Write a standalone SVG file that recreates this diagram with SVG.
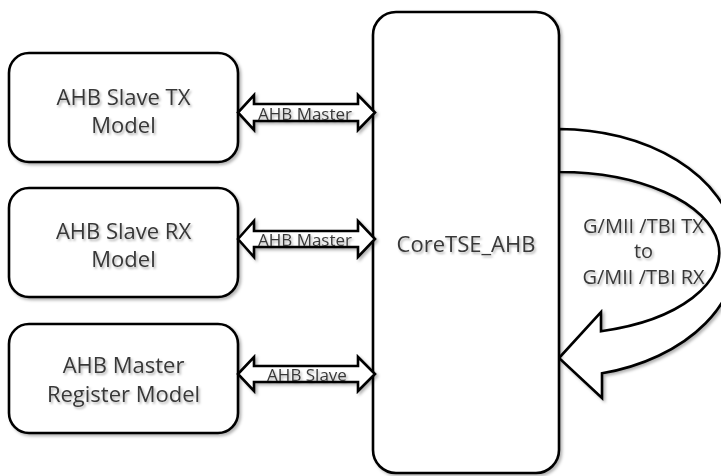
<svg xmlns="http://www.w3.org/2000/svg" width="721" height="476" viewBox="0 0 721 476">
  <defs>
    <filter id="sh" x="-10%" y="-10%" width="120%" height="120%">
      <feDropShadow dx="2" dy="2" stdDeviation="1.5" flood-color="#000" flood-opacity="0.3"/>
    </filter>
    <filter id="tsh" x="-10%" y="-20%" width="120%" height="150%">
      <feDropShadow dx="1.5" dy="2" stdDeviation="1.2" flood-color="#000" flood-opacity="0.3"/>
    </filter>
  </defs>
  <style>
    .box { fill: #fff; stroke: #000; stroke-width: 2.6; }
    .arr { fill: #fff; stroke: #000; stroke-width: 2.6; stroke-linejoin: miter; }
    .t { font-family: "Open Sans", "Liberation Sans", sans-serif; fill: #383838; text-anchor: middle; }
    .big { font-size: 22px; }
    .mid { font-size: 20px; }
    .sm { font-size: 17px; }
  </style>

  <g id="loopback" filter="url(#sh)">
    <path class="arr" d="M559,129 A178,124 0 0 1 602,373.3 L602,398 L559,358 L601,312 L601,331.2 A160,81 0 0 0 559,172 Z"/>
  </g>

  <g id="core" filter="url(#sh)">
    <rect class="box" x="373" y="12" width="186" height="461" rx="23" ry="23"/>
  </g>
  <g id="core-label" filter="url(#tsh)">
    <text class="t big" x="466" y="252">CoreTSE_AHB</text>
  </g>

  <g id="tx-model" filter="url(#sh)">
    <rect class="box" x="9" y="53" width="229" height="109" rx="20" ry="20"/>
  </g>
  <g filter="url(#tsh)">
    <text class="t big" x="123.5" y="105">AHB Slave TX</text>
    <text class="t big" x="123.5" y="133">Model</text>
  </g>

  <g id="rx-model" filter="url(#sh)">
    <rect class="box" x="9" y="188" width="229" height="109" rx="20" ry="20"/>
  </g>
  <g filter="url(#tsh)">
    <text class="t big" x="123.5" y="239">AHB Slave RX</text>
    <text class="t big" x="123.5" y="267">Model</text>
  </g>

  <g id="reg-model" filter="url(#sh)">
    <rect class="box" x="9" y="324" width="229" height="109" rx="20" ry="20"/>
  </g>
  <g filter="url(#tsh)">
    <text class="t big" x="123.5" y="373">AHB Master</text>
    <text class="t big" x="123.5" y="402">Register Model</text>
  </g>

  <g id="connectors" filter="url(#sh)">
    <path class="arr" d="M238,112.5 L254,95 L254,104 L358,104 L358,95 L375,112.5 L358,130 L358,121 L254,121 L254,130 Z"/>
    <path class="arr" d="M238,239 L254,221 L254,231 L358,231 L358,221 L375,239 L358,257 L358,247 L254,247 L254,257 Z"/>
    <path class="arr" d="M238,374 L254,357 L254,366 L358,366 L358,357 L375,374 L358,391 L358,382 L254,382 L254,391 Z"/>
  </g>
  <g id="connector-labels" filter="url(#tsh)">
    <text class="t sm" x="305" y="120">AHB Master</text>
    <text class="t sm" x="305" y="246">AHB Master</text>
    <text class="t sm" x="307" y="381">AHB Slave</text>
    <text class="t mid" x="643.5" y="233">G/MII /TBI TX</text>
    <text class="t mid" x="643.5" y="258">to</text>
    <text class="t mid" x="643.5" y="284">G/MII /TBI RX</text>
  </g>
</svg>
